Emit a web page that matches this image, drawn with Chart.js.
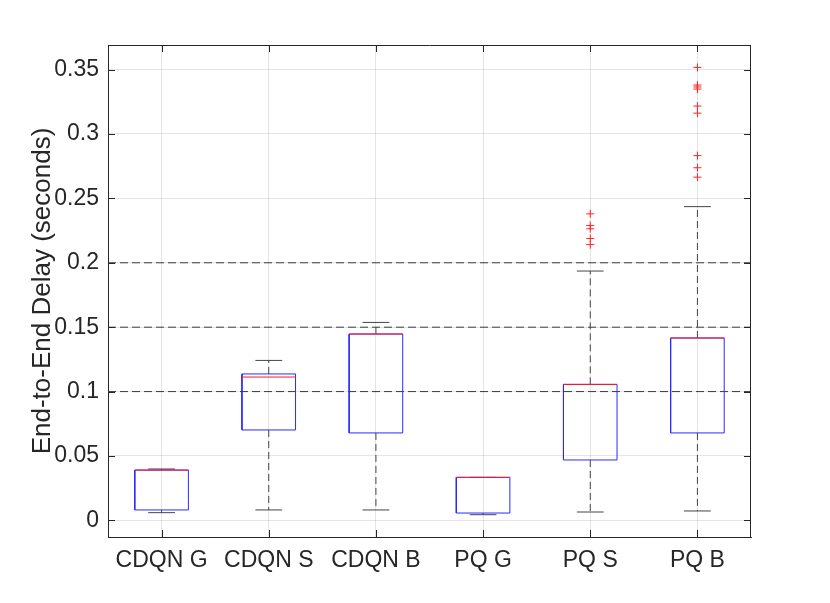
<!DOCTYPE html>
<html>
<head>
<meta charset="utf-8">
<script src="https://cdn.jsdelivr.net/npm/chart.js@4.4.1/dist/chart.umd.min.js"></script>
<style>
  html, body { margin: 0; padding: 0; background: #fff; }
  #wrap { width: 830px; height: 603px; }
</style>
</head>
<body>
<div id="wrap"><canvas id="boxChart"></canvas></div>
<script>
// categories and box statistics (seconds)
const categories = ['CDQN G', 'CDQN S', 'CDQN B', 'PQ G', 'PQ S', 'PQ B'];
const lowerWhisker = [0.0060, 0.0081, 0.0081, 0.0044, 0.0065, 0.0073];
const q1 = [0.0081, 0.0702, 0.0679, 0.0057, 0.0469, 0.0679];
const medians = [0.0390, 0.1113, 0.1447, 0.0334, 0.1056, 0.1416];
const q3 = [0.0391, 0.1137, 0.1447, 0.0334, 0.1056, 0.1416];
const upperWhisker = [0.0399, 0.1242, 0.1537, 0.0334, 0.1936, 0.2436];
const outliersPQS = [0.2380, 0.2290, 0.2264, 0.2189, 0.2141];
const outliersPQB = [0.3517, 0.3380, 0.3365, 0.3349, 0.3217, 0.3162, 0.2832, 0.2738, 0.2665];
const refLines = [0.1, 0.15, 0.2];
const yTicks = [0, 0.05, 0.1, 0.15, 0.2, 0.25, 0.3, 0.35];
const yTickLabels = ['0', '0.05', '0.1', '0.15', '0.2', '0.25', '0.3', '0.35'];

const xPos = categories.map((c, i) => i + 1);
const boxHalf = 0.25;
const capHalf = 0.125;
const axisColor = '#262626';
const gridColor = 'rgba(38,38,38,0.12)';
const fontFamily = 'Liberation Sans, Arial, sans-serif';

//joins a list of polylines into one dataset, with gaps between them
function joinPaths(paths) {
  let pts = [];
  paths.forEach((p) => {
    p.forEach(([x, y]) => pts.push({ x: x, y: y }));
    pts.push({ x: p[p.length - 1][0], y: null });
  });
  return pts;
}

let boxPaths = xPos.map((x, i) => [
  [x - boxHalf, q1[i]], [x + boxHalf, q1[i]], [x + boxHalf, q3[i]],
  [x - boxHalf, q3[i]], [x - boxHalf, q1[i]]
]);
let medianPaths = xPos.map((x, i) => [[x - boxHalf, medians[i]], [x + boxHalf, medians[i]]]);
let whiskerPaths = [];
let capPaths = [];
xPos.forEach((x, i) => {
  whiskerPaths.push([[x, q3[i]], [x, upperWhisker[i]]]);
  whiskerPaths.push([[x, q1[i]], [x, lowerWhisker[i]]]);
  capPaths.push([[x - capHalf, upperWhisker[i]], [x + capHalf, upperWhisker[i]]]);
  capPaths.push([[x - capHalf, lowerWhisker[i]], [x + capHalf, lowerWhisker[i]]]);
});
let refPaths = refLines.map((v) => [[0.5, v], [6.5, v]]);

let outlierPoints = outliersPQS.map((v) => ({ x: 5, y: v }))
  .concat(outliersPQB.map((v) => ({ x: 6, y: v })));

//draws the top/right box edges and the inward tick marks like matlab
const matlabAxes = {
  id: 'matlabAxes',
  afterDatasetsDraw(chart) {
    const { ctx, chartArea: a, scales } = chart;
    const len = 7;
    ctx.save();
    ctx.strokeStyle = axisColor;
    ctx.lineWidth = 1;
    ctx.beginPath();
    ctx.moveTo(a.left, a.top + 0.5);
    ctx.lineTo(a.right, a.top + 0.5);
    ctx.moveTo(a.right - 0.5, a.top);
    ctx.lineTo(a.right - 0.5, a.bottom);
    scales.x.ticks.forEach((t) => {
      let px = Math.round(scales.x.getPixelForValue(t.value)) + 0.5;
      ctx.moveTo(px, a.bottom);
      ctx.lineTo(px, a.bottom - len);
      ctx.moveTo(px, a.top);
      ctx.lineTo(px, a.top + len);
    });
    scales.y.ticks.forEach((t) => {
      let py = Math.round(scales.y.getPixelForValue(t.value)) + 0.5;
      ctx.moveTo(a.left, py);
      ctx.lineTo(a.left + len, py);
      ctx.moveTo(a.right, py);
      ctx.lineTo(a.right - len, py);
    });
    ctx.stroke();
    ctx.restore();
  }
};

const lineSet = (label, data, color, dash) => ({
  label: label,
  data: data,
  showLine: true,
  spanGaps: false,
  borderColor: color,
  borderWidth: 1,
  borderDash: dash || [],
  pointRadius: 0,
  fill: false
});

let ctx = document.getElementById('boxChart').getContext('2d');

let boxChart = new Chart(ctx, {
  type: 'scatter',
  data: {
    datasets: [
      {
        label: 'Outliers',
        data: outlierPoints,
        pointStyle: 'cross',
        pointRadius: 4,
        borderColor: '#ff2020',
        borderWidth: 1
      },
      lineSet('Median', joinPaths(medianPaths), '#ff1a1a'),
      lineSet('Box', joinPaths(boxPaths), '#2a2aff'),
      lineSet('Caps', joinPaths(capPaths), '#444444'),
      lineSet('Whiskers', joinPaths(whiskerPaths), '#444444', [7, 4]),
      lineSet('Reference', joinPaths(refPaths), '#3a3a3a', [8, 4])
    ]
  },
  options: {
    responsive: true,
    maintainAspectRatio: false,
    animation: false,
    layout: { padding: { left: 23, right: 79, top: 45, bottom: 0 } },
    plugins: {
      legend: { display: false },
      tooltip: { enabled: false }
    },
    scales: {
      x: {
        type: 'linear',
        min: 0.5,
        max: 6.5,
        afterBuildTicks: (s) => { s.ticks = xPos.map((v) => ({ value: v })); },
        afterFit: (s) => { s.height = 66; },
        ticks: {
          callback: (v) => categories[v - 1] || '',
          autoSkip: false,
          maxRotation: 0,
          padding: 10,
          color: axisColor,
          font: { family: fontFamily, size: 23 }
        },
        grid: { color: gridColor, drawTicks: false },
        border: { color: axisColor }
      },
      y: {
        type: 'linear',
        min: -0.0129,
        max: 0.3691,
        afterBuildTicks: (s) => { s.ticks = yTicks.map((v) => ({ value: v })); },
        afterFit: (s) => { s.width = 85; },
        ticks: {
          callback: (v, i) => yTickLabels[i],
          padding: 9,
          color: axisColor,
          font: { family: fontFamily, size: 23 }
        },
        grid: { color: gridColor, drawTicks: false },
        border: { color: axisColor },
        title: {
          display: true,
          text: 'End-to-End Delay (seconds)',
          color: axisColor,
          font: { family: fontFamily, size: 26 }
        }
      }
    }
  },
  plugins: [matlabAxes]
});
</script>
</body>
</html>
